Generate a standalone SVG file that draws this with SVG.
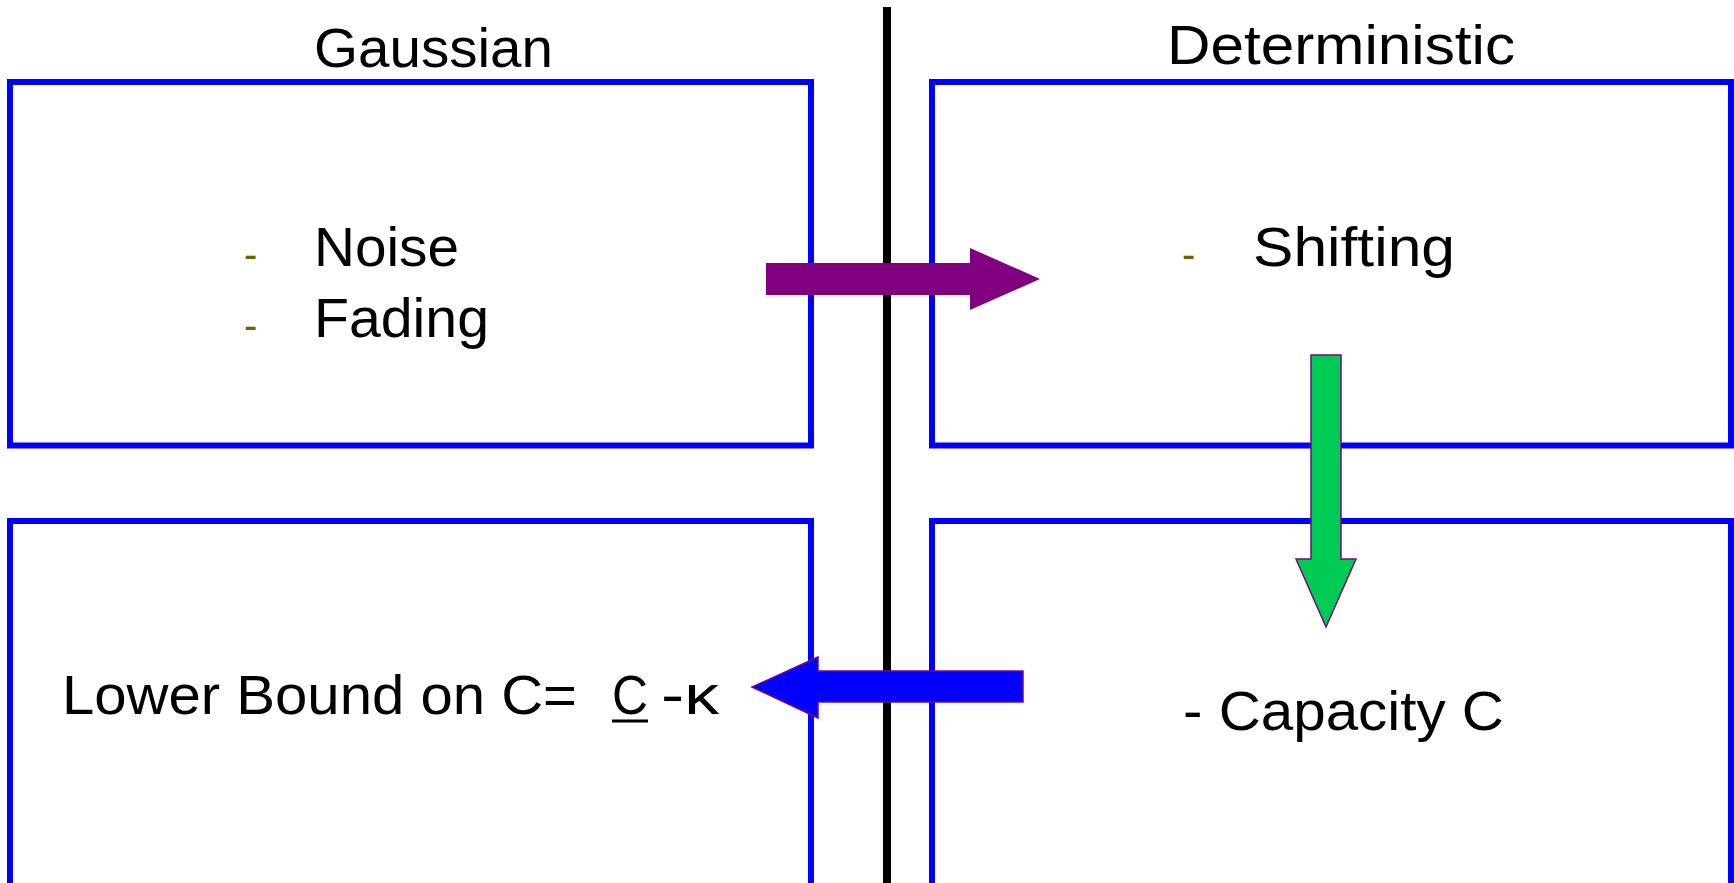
<svg xmlns="http://www.w3.org/2000/svg" width="1734" height="883" viewBox="0 0 1734 883">
<style>
.box{fill:none;stroke:#0000FF;stroke-width:6}
.t{font-family:"Liberation Sans",Arial,sans-serif;font-size:56px;fill:#000}
.b{font-family:"Liberation Sans",Arial,sans-serif;font-size:40px;fill:#666600}
.arr{stroke:#800080;stroke-width:1.5}
</style>
<rect width="1734" height="883" fill="#fff"/>
<g id="divider"><line x1="887" y1="7" x2="887" y2="890" stroke="#000" stroke-width="8"/></g>
<text class="t" x="314" y="67" textLength="239" lengthAdjust="spacingAndGlyphs">Gaussian</text>
<text class="t" x="1167" y="64" textLength="348" lengthAdjust="spacingAndGlyphs">Deterministic</text>
<g id="gaussian-top">
<rect class="box" x="10" y="82" width="801" height="363.5"/>
<text class="b" x="244" y="268">-</text>
<text class="t" x="314" y="266" textLength="145" lengthAdjust="spacingAndGlyphs">Noise</text>
<text class="b" x="244" y="339">-</text>
<text class="t" x="314" y="337" textLength="175" lengthAdjust="spacingAndGlyphs">Fading</text>
</g>
<g id="deterministic-top">
<rect class="box" x="932" y="82" width="799" height="363.5"/>
<text class="b" x="1182" y="268">-</text>
<text class="t" x="1253" y="266" textLength="202" lengthAdjust="spacingAndGlyphs">Shifting</text>
</g>
<g id="gaussian-bottom">
<rect class="box" x="10" y="521" width="801" height="370"/>
<text class="t" x="62" y="714" textLength="515" lengthAdjust="spacingAndGlyphs">Lower Bound on C=</text>
<text class="t" x="612" y="714" textLength="36" lengthAdjust="spacingAndGlyphs">C</text>
<line x1="612" y1="721" x2="648" y2="721" stroke="#000" stroke-width="3"/>
<text class="t" x="661" y="714" textLength="58" lengthAdjust="spacingAndGlyphs">-κ</text>
</g>
<g id="deterministic-bottom">
<rect class="box" x="932" y="521" width="799" height="370"/>
<text class="t" x="1183" y="730" textLength="321" lengthAdjust="spacingAndGlyphs">- Capacity C</text>
</g>
<g id="connectors">
<polygon fill="#800080" points="766,263 970,263 970,248 1040,279 970,310 970,295 766,295"/>
<polygon class="arr" fill="#00CC55" points="1311,355 1341,355 1341,559 1356,559 1326,627 1296,559 1311,559"/>
<polygon class="arr" fill="#0000FF" points="1023,671 818,671 818,657 752,687 818,718 818,702 1023,702"/>
</g>
</svg>
